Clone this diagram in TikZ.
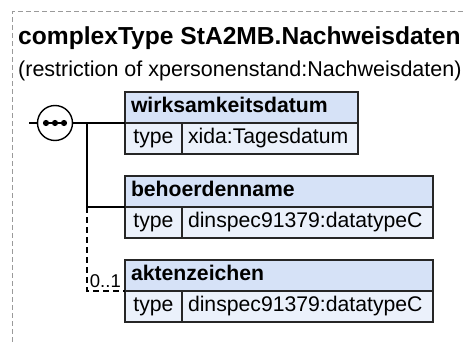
\documentclass[tikz,border=0pt]{standalone}
\usepackage{fontspec}
\setmainfont{Liberation Sans}
\usepackage{tikz}
\usetikzlibrary{positioning}
\definecolor{hdrblue}{HTML}{D6E2F7}
\definecolor{rowblue}{HTML}{EBF1FB}
\definecolor{framegray}{HTML}{9A9A9A}
\tikzstyle{elemhead}=[rectangle, draw=black!85, line width=1.5pt, fill=hdrblue,
                      anchor=north west, minimum height=31pt, outer sep=0pt,
                      text height=15pt, text depth=4pt, inner xsep=6pt, align=left,
                      font=\fontsize{21.2}{25}\selectfont\bfseries]
\tikzstyle{typecell}=[elemhead, fill=rowblue, minimum width=57pt,
                      font=\fontsize{21.2}{25}\selectfont]
\tikzstyle{valcell}=[elemhead, fill=rowblue, font=\fontsize{21.2}{25}\selectfont]
\tikzstyle{seqcirc}=[circle, draw=black, line width=1.4pt, fill=white,
                     minimum size=35pt, inner sep=0pt, outer sep=0pt]
\tikzstyle{conn}=[line width=1.6pt, color=black]
\tikzstyle{optconn}=[conn, dash pattern=on 6pt off 4pt]
\tikzstyle{framedash}=[line width=1pt, color=framegray, dash pattern=on 5pt off 3pt]

\begin{document}
\begin{tikzpicture}[x=1pt, y=-1pt]
  \useasboundingbox (0,0) rectangle (464,342);

  % Frame and heading
  \draw[framedash] (12,342) -- (12,12) -- (464,12);
  \node[anchor=base west, inner sep=0pt, font=\fontsize{24.6}{28}\selectfont\bfseries]
        (title) at (18,45) {complexType StA2MB.Nachweisdaten};
  \node[anchor=base west, inner sep=0pt, font=\fontsize{21.5}{25}\selectfont]
        (subtitle) at (18,77) {(restriction of xpersonenstand:Nachweisdaten)};

  % Sequence compositor
  \node[seqcirc] (seq) at (55,123) {};
  \draw[conn] ([xshift=-9pt]seq.center) -- ([xshift=9pt]seq.center);
  \foreach \dx in {-9,0,9}
    \fill ([xshift=\dx pt]seq.center) circle (3.1pt);

  % Element wirksamkeitsdatum
  \node[elemhead, text width=221pt] (wirk) at (125,92) {wirksamkeitsdatum};
  \node[typecell] (wirktype) at (wirk.south west) {type};
  \node[valcell, text width=164pt] (wirkval) at (wirktype.north east) {xida:Tagesdatum};

  % Element behoerdenname
  \node[elemhead, text width=296pt, below=22pt of wirktype.south west, anchor=north west]
        (behoer) {behoerdenname};
  \node[typecell] (behoertype) at (behoer.south west) {type};
  \node[valcell, text width=239pt] (behoerval) at (behoertype.north east) {dinspec91379:datatypeC};

  % Element aktenzeichen
  \node[elemhead, text width=296pt, below=22pt of behoertype.south west, anchor=north west]
        (akten) {aktenzeichen};
  \node[typecell] (aktentype) at (akten.south west) {type};
  \node[valcell, text width=239pt] (aktenval) at (aktentype.north east) {dinspec91379:datatypeC};

  % Connectors
  \coordinate (start) at (29,123);
  \coordinate (branch) at (87,123);
  \draw[conn] (start) -- (seq.west);
  \draw[conn] (seq.east) -- (wirk.south west);
  \draw[conn] (branch) |- (behoer.south west);
  \draw[optconn] (branch |- behoer.south west) |- (akten.south west);
  \node[anchor=base east, inner sep=0pt, font=\fontsize{18.5}{22}\selectfont]
        (aktenmult) at ([xshift=-4pt, yshift=3pt]akten.south west) {0..1};
\end{tikzpicture}
\end{document}
